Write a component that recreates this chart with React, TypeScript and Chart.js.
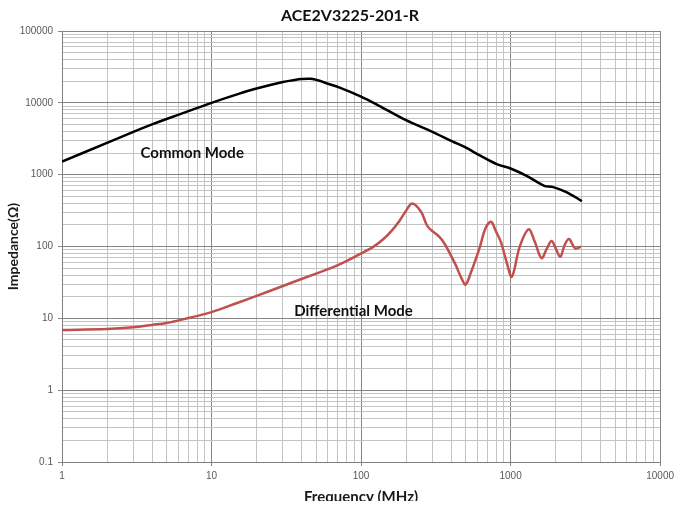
import { useEffect, useRef } from "react";
import { Chart, registerables } from "chart.js";

Chart.register(...registerables);

const chartTitle = "ACE2V3225-201-R";
const xAxisTitle = "Frequency (MHz)";
const yAxisTitle = "Impedance(Ω)";

const xDecades = [1, 10, 100, 1000, 10000];
const yDecades = [0.1, 1, 10, 100, 1000, 10000, 100000];

const cmFreq = [1, 2, 3, 4, 5, 7, 10, 15, 20, 30, 35, 40, 46, 52, 58, 72, 100, 132, 200, 300, 404, 500, 619, 815, 1000, 1290, 1680, 1900, 2340, 3000];
const cmImpedance = [1520, 2770, 3940, 5000, 5950, 7650, 10000, 13200, 15800, 19500, 20600, 21400, 21600, 20500, 18900, 16300, 12200, 9100, 5730, 3950, 2930, 2390, 1870, 1390, 1220, 955, 700, 677, 578, 429];

const dmFreq = [1, 2, 3, 4, 5, 7, 10, 15, 20, 30, 50, 70, 100, 120, 140, 160, 180, 200, 220, 252, 275, 293, 333, 360, 387, 430, 470, 500, 540, 619, 680, 740, 800, 860, 940, 1020, 1150, 1320, 1450, 1610, 1750, 1880, 2000, 2150, 2300, 2460, 2700, 2950];
const dmImpedance = [6.9, 7.1, 7.5, 8.1, 8.6, 10.1, 12.2, 16.5, 20.5, 28.2, 42, 55, 80, 98, 125, 165, 225, 315, 398, 305, 199, 170, 137, 111, 85, 55, 36, 29.5, 42, 94, 179, 221, 161, 117, 61, 38, 99, 173, 117, 69, 94, 119, 95, 72, 105, 127, 94, 99];

const annotationTexts = ["Common Mode", "Differential Mode"];
const annotationX = [7.43, 89];
const annotationY = [1970, 12.7];

function logTicks(decades: number[]) {
  const ticks: { value: number; major: boolean }[] = [];
  for (let i = 0; i < decades.length; i++) {
    const d = decades[i];
    ticks.push({ value: d, major: true });
    if (i < decades.length - 1) {
      for (let m = 2; m <= 9; m++) {
        ticks.push({ value: Number((d * m).toPrecision(6)), major: false });
      }
    }
  }
  return ticks;
}

const tickFont = { family: "'Liberation Sans', Arial, sans-serif", size: 10 };
const majorGrid = "#858585";
const minorGrid = "#c4c4c4";

const textPlugin = {
  id: "chartTexts",
  afterDatasetsDraw(chart: any) {
    const { ctx, scales } = chart;
    ctx.save();
    ctx.fillStyle = "#111";
    ctx.textAlign = "center";
    ctx.textBaseline = "middle";
    ctx.font = "bold 15px Lato, 'Open Sans', sans-serif";
    for (let i = 0; i < annotationTexts.length; i++) {
      const px = scales.x.getPixelForValue(annotationX[i]);
      const py = scales.y.getPixelForValue(annotationY[i]);
      ctx.fillText(annotationTexts[i], px, py);
    }
    ctx.font = "bold 16px Lato, 'Open Sans', sans-serif";
    ctx.fillText(chartTitle, 350, 16);
    ctx.restore();
  },
};

export default function App() {
  const canvasRef = useRef<HTMLCanvasElement | null>(null);

  useEffect(() => {
    if (!canvasRef.current) return;
    const gridColor = (c: any) => (c.tick && c.tick.major ? majorGrid : minorGrid);
    const tickMarkColor = (c: any) => (c.tick && c.tick.major ? majorGrid : "rgba(0,0,0,0)");
    const label = (v: any, i: number, ticks: any[]) => (ticks[i] && ticks[i].major ? String(v) : "");

    const chart = new Chart(canvasRef.current, {
      type: "line",
      data: {
        datasets: [
          {
            label: "Common Mode",
            data: cmFreq.map((f, i) => ({ x: f, y: cmImpedance[i] })),
            borderColor: "#000000",
            borderWidth: 2.5,
            pointRadius: 0,
            tension: 0.35,
            fill: false,
          },
          {
            label: "Differential Mode",
            data: dmFreq.map((f, i) => ({ x: f, y: dmImpedance[i] })),
            borderColor: "#c0504d",
            borderWidth: 2.5,
            pointRadius: 0,
            tension: 0.35,
            fill: false,
          },
        ],
      },
      options: {
        animation: false,
        responsive: false,
        maintainAspectRatio: false,
        layout: { padding: { top: 31, right: 17, left: 0, bottom: 0 } },
        plugins: {
          legend: { display: false },
          title: { display: false },
          tooltip: { enabled: false },
        },
        scales: {
          x: {
            type: "logarithmic",
            min: 1,
            max: 10000,
            afterBuildTicks: (s: any) => {
              s.ticks = logTicks(xDecades);
            },
            afterFit: (s: any) => {
              s.height = 39;
            },
            ticks: {
              autoSkip: false,
              maxRotation: 0,
              minRotation: 0,
              padding: 4,
              font: tickFont,
              color: "#595959",
              callback: label,
            },
            grid: {
              color: gridColor,
              tickColor: tickMarkColor,
              tickLength: 4,
              lineWidth: 1,
            },
            border: { color: "#808080" },
            title: {
              display: true,
              text: xAxisTitle,
              color: "#1a1a1a",
              font: { family: "Lato, 'Open Sans', sans-serif", size: 15, weight: "bold" },
              padding: { top: 0, bottom: -5 },
            },
          },
          y: {
            type: "logarithmic",
            min: 0.1,
            max: 100000,
            afterBuildTicks: (s: any) => {
              s.ticks = logTicks(yDecades);
            },
            afterFit: (s: any) => {
              s.width = 62;
            },
            ticks: {
              autoSkip: false,
              padding: 5,
              font: tickFont,
              color: "#595959",
              callback: label,
            },
            grid: {
              color: gridColor,
              tickColor: tickMarkColor,
              tickLength: 4,
              lineWidth: 1,
            },
            border: { color: "#808080" },
            title: {
              display: true,
              text: yAxisTitle,
              color: "#1a1a1a",
              font: { family: "Lato, 'Open Sans', sans-serif", size: 14, weight: "bold" },
              padding: { top: 5, bottom: 0 },
            },
          },
        },
      } as any,
      plugins: [textPlugin],
    });
    return () => chart.destroy();
  }, []);

  return (
    <div style={{ position: "fixed", left: 0, top: 0, width: 678, height: 501, background: "#fff" }}>
      <canvas ref={canvasRef} width={678} height={501} style={{ display: "block", width: 678, height: 501 }} />
    </div>
  );
}
